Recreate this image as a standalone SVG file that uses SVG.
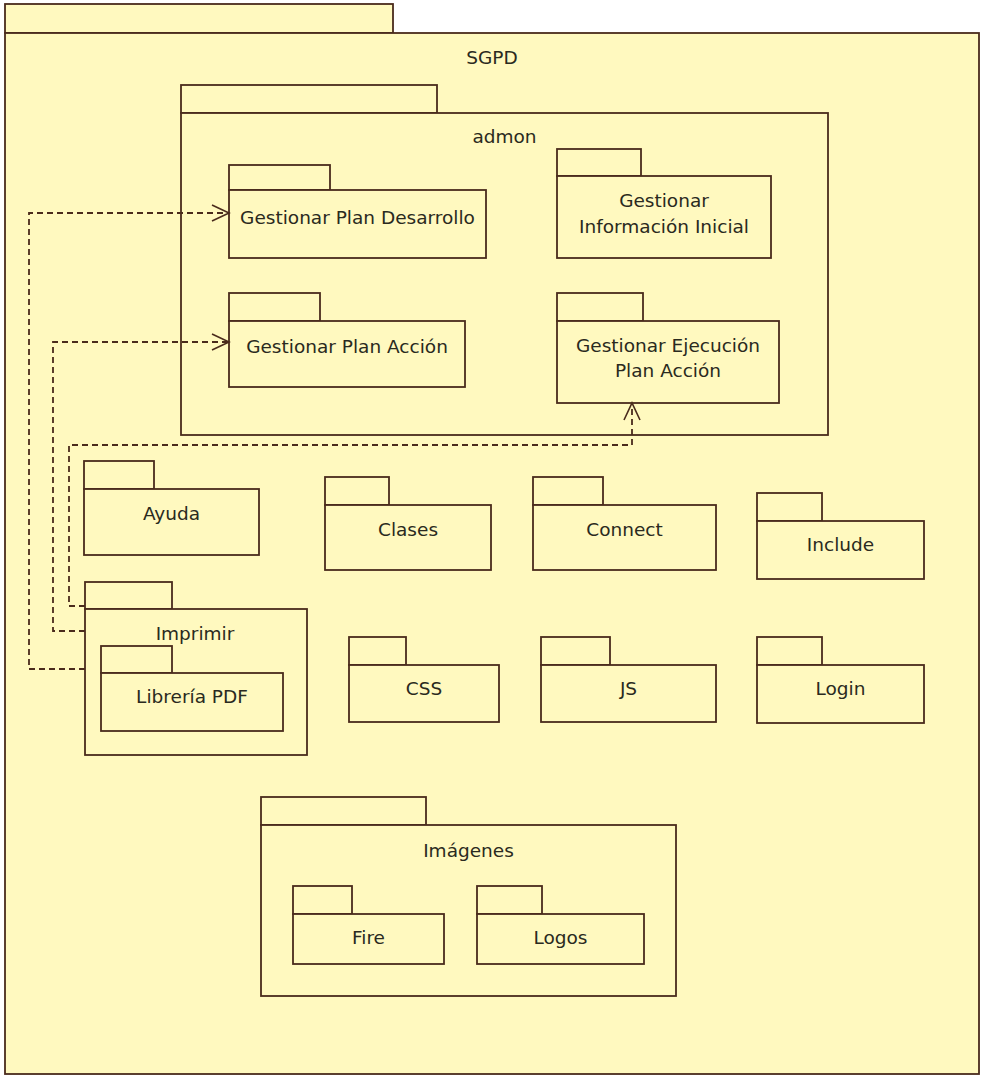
<svg xmlns="http://www.w3.org/2000/svg" width="981" height="1078" viewBox="0 0 981 1078">
<style>
.pk{fill:#fff9bf;stroke:#4a2b1c;stroke-width:1.8}
.t{font-family:"DejaVu Sans",Verdana,sans-serif;font-size:18.5px;fill:#2a2a20;text-anchor:middle}
.c{fill:none;stroke:#4a2b1c;stroke-width:1.8;stroke-dasharray:6 4}
</style>
<defs>
<marker id="ah" markerUnits="userSpaceOnUse" markerWidth="22" markerHeight="20" refX="18" refY="9" orient="auto">
<path d="M1,1 L18,9 L1,17" fill="none" stroke="#4a2b1c" stroke-width="1.6"/>
</marker>
</defs>
<rect width="981" height="1078" fill="#ffffff"/>
<g id="SGPD">
<rect class="pk" x="5" y="4" width="388" height="29"/>
<rect class="pk" x="5" y="33" width="974" height="1041"/>
<text class="t" x="492" y="64">SGPD</text>
</g>
<g id="admon">
<rect class="pk" x="181" y="85" width="256" height="28"/>
<rect class="pk" x="181" y="113" width="647" height="322"/>
<text class="t" x="504.5" y="143">admon</text>
</g>
<g id="GestionarPlanDesarrollo">
<rect class="pk" x="229" y="165" width="101" height="25"/>
<rect class="pk" x="229" y="190" width="257" height="68"/>
<text class="t" x="357.5" y="224">Gestionar Plan Desarrollo</text>
</g>
<g id="GestionarInformacionInicial">
<rect class="pk" x="557" y="149" width="84" height="27"/>
<rect class="pk" x="557" y="176" width="214" height="82"/>
<text class="t" x="664" y="207">Gestionar</text>
<text class="t" x="664" y="233">Información Inicial</text>
</g>
<g id="GestionarPlanAccion">
<rect class="pk" x="229" y="293" width="91" height="28"/>
<rect class="pk" x="229" y="321" width="236" height="66"/>
<text class="t" x="347" y="353">Gestionar Plan Acción</text>
</g>
<g id="GestionarEjecucionPlanAccion">
<rect class="pk" x="557" y="293" width="86" height="28"/>
<rect class="pk" x="557" y="321" width="222" height="82"/>
<text class="t" x="668" y="352">Gestionar Ejecución</text>
<text class="t" x="668" y="377">Plan Acción</text>
</g>
<g id="Ayuda">
<rect class="pk" x="84" y="461" width="70" height="28"/>
<rect class="pk" x="84" y="489" width="175" height="66"/>
<text class="t" x="171.5" y="520">Ayuda</text>
</g>
<g id="Clases">
<rect class="pk" x="325" y="477" width="64" height="28"/>
<rect class="pk" x="325" y="505" width="166" height="65"/>
<text class="t" x="408" y="536">Clases</text>
</g>
<g id="Connect">
<rect class="pk" x="533" y="477" width="70" height="28"/>
<rect class="pk" x="533" y="505" width="183" height="65"/>
<text class="t" x="624.5" y="536">Connect</text>
</g>
<g id="Include">
<rect class="pk" x="757" y="493" width="65" height="28"/>
<rect class="pk" x="757" y="521" width="167" height="58"/>
<text class="t" x="840.5" y="551">Include</text>
</g>
<g id="Imprimir">
<rect class="pk" x="85" y="582" width="87" height="27"/>
<rect class="pk" x="85" y="609" width="222" height="146"/>
<text class="t" x="195" y="640">Imprimir</text>
<g id="LibreriaPDF">
<rect class="pk" x="101" y="646" width="71" height="27"/>
<rect class="pk" x="101" y="673" width="182" height="58"/>
<text class="t" x="192" y="703">Librería PDF</text>
</g>
</g>
<g id="CSS">
<rect class="pk" x="349" y="637" width="57" height="28"/>
<rect class="pk" x="349" y="665" width="150" height="57"/>
<text class="t" x="424" y="695">CSS</text>
</g>
<g id="JS">
<rect class="pk" x="541" y="637" width="69" height="28"/>
<rect class="pk" x="541" y="665" width="175" height="57"/>
<text class="t" x="628.5" y="695">JS</text>
</g>
<g id="Login">
<rect class="pk" x="757" y="637" width="65" height="28"/>
<rect class="pk" x="757" y="665" width="167" height="58"/>
<text class="t" x="840.5" y="695">Login</text>
</g>
<g id="Imagenes">
<rect class="pk" x="261" y="797" width="165" height="28"/>
<rect class="pk" x="261" y="825" width="415" height="171"/>
<text class="t" x="468.5" y="857">Imágenes</text>
<g id="Fire">
<rect class="pk" x="293" y="886" width="59" height="28"/>
<rect class="pk" x="293" y="914" width="151" height="50"/>
<text class="t" x="368.5" y="944">Fire</text>
</g>
<g id="Logos">
<rect class="pk" x="477" y="886" width="65" height="28"/>
<rect class="pk" x="477" y="914" width="167" height="50"/>
<text class="t" x="560.5" y="944">Logos</text>
</g>
</g>
<g id="connectors">
<path class="c" d="M85,669 H29 V213 H229" marker-end="url(#ah)"/>
<path class="c" d="M85,631 H53 V342 H229" marker-end="url(#ah)"/>
<path class="c" d="M85,606 H69 V445 H632 V403" marker-end="url(#ah)"/>
</g>
</svg>
